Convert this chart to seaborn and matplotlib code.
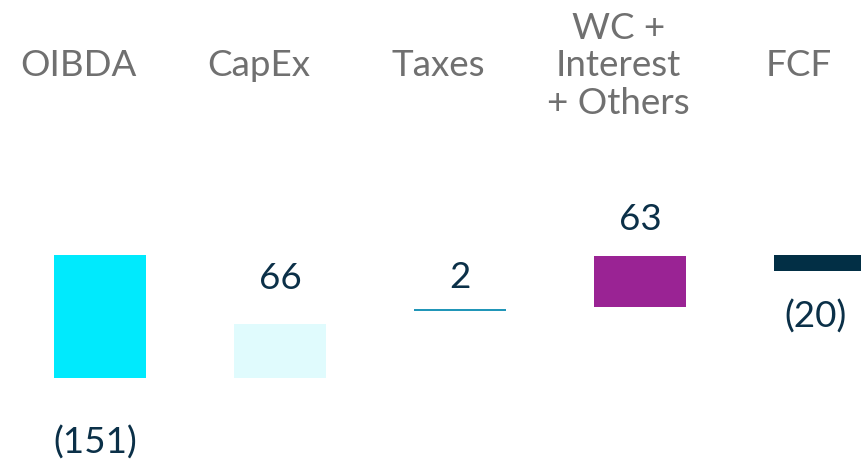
import numpy as np
import pandas as pd
import matplotlib
matplotlib.use("Agg")
import matplotlib.pyplot as plt
import seaborn as sns

# ── Data ──────────────────────────────────────────────────────────────────────
categories = ["OIBDA", "CapEx", "Taxes", "WC +\nInterest\n+ Others", "FCF"]
values     = [-151, 66, 2, 63, -20]
bases      = [0, -151, -68.5, -64, 0]          # where each floating bar starts
labels     = ["(151)", "66", "2", "63", "(20)"]

bar_colors  = ["#00EAFD", "#E0FBFD", "#2196B8", "#9A2394", "#022F45"]
label_pad   = [65, 46, 32, 36, 45]             # px between bar end and value label
TEXT_DARK   = "#0B3048"
TEXT_GREY   = "#707070"

sns.set_theme(style="white")
plt.rcParams["font.family"] = ["Lato", "DejaVu Sans"]

df = pd.DataFrame({"Category": categories, "Value": values})

fig = plt.figure(figsize=(8.62, 4.66), dpi=100)
ax = fig.add_axes([0, 0, 1, 1])

sns.barplot(data=df, x="Category", y="Value", hue="Category",
            palette=bar_colors, saturation=1, legend=False, width=0.51,
            ax=ax, linewidth=0)

# lift each bar to its waterfall base
for patch, base in zip(ax.patches, bases):
    patch.set_y(base)

ax.set_xlim(-0.556, 4.233)
ax.set_ylim(-259, 313)
ax.axis("off")

# value labels (negatives sit a touch left, as in the source deck)
for i, (val, base, txt) in enumerate(zip(values, bases, labels)):
    end = base + val
    if val > 0:
        off = (0, label_pad[i])
    else:
        off = (-5, -label_pad[i])
    ax.annotate(txt, (i, end), xytext=off, textcoords="offset pixels",
                ha="center", va="center", fontsize=26.5, color=TEXT_DARK)

# category headers along the top
for i, cat in enumerate(categories):
    ax.text(i - 0.12, 1 - 66 / 466, cat, transform=ax.get_xaxis_transform(),
            ha="center", va="center", fontsize=26.5, color=TEXT_GREY,
            linespacing=1.17)

fig.savefig("out.png", dpi=100)
